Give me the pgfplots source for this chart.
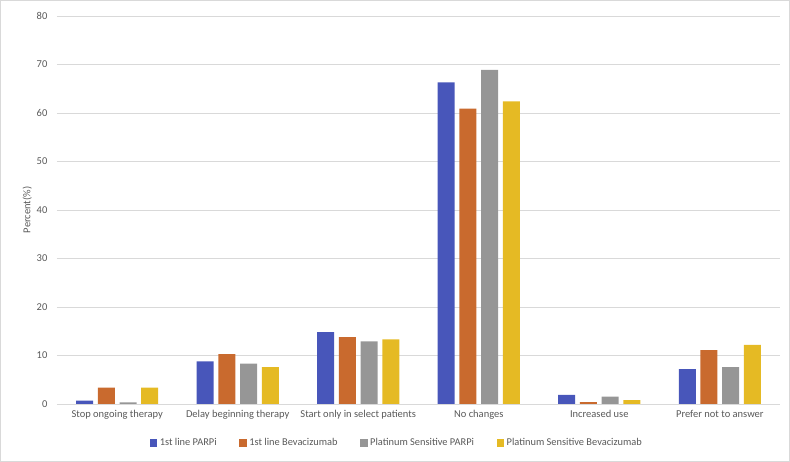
\documentclass[border=0pt]{standalone}
\usepackage{pgfplots}
\pgfplotsset{compat=1.18}
\usepackage{fontspec}
\setmainfont{Carlito}
\definecolor{cblue}{RGB}{72,86,186}
\definecolor{corange}{RGB}{201,106,46}
\definecolor{cgray}{RGB}{150,150,150}
\definecolor{cyellow}{RGB}{229,186,36}
\definecolor{cgrid}{RGB}{217,217,217}
\definecolor{ctext}{RGB}{89,89,89}
\begin{document}
\begin{tikzpicture}[x=1pt,y=1pt]
\draw[cgrid, line width=0.8pt] (0.5,0.5) rectangle (789.5,461.5);
\begin{axis}[
  at={(57pt,58pt)}, anchor=south west,
  scale only axis, width=723pt, height=388pt,
  ybar=4.7pt, bar width=17pt,
  xmin=-0.5, xmax=5.5, ymin=0, ymax=80,
  ytick={0,10,...,80},
  xtick={0,1,2,3,4,5},
  xticklabels={Stop ongoing therapy,Delay beginning therapy,Start only in select patients,No changes,Increased use,Prefer not to answer},
  axis line style={draw=none},
  major tick length=0pt,
  ymajorgrids, grid style={cgrid, line width=0.8pt},
  tick label style={font=\fontsize{10.5}{12}\selectfont, text=ctext},
  yticklabel style={xshift=-6pt},
  xticklabel style={yshift=-3pt},
  ylabel={Percent(\%)},
  ylabel style={font=\fontsize{10.5}{12}\selectfont, text=ctext, yshift=-2pt},
  /pgf/number format/assume math mode=true,
  legend style={at={(0.47,-0.078)}, anchor=north, draw=none, fill=none,
    font=\fontsize{10.4}{12}\selectfont, text=ctext,
    /tikz/every odd column/.append style={column sep=0.5pt},
    /tikz/every even column/.append style={column sep=20.5pt}},
  legend columns=4,
  legend image code/.code={\fill[#1, draw=none] (0pt,-3.7pt) rectangle (7.6pt,3.7pt);},
  every axis plot/.append style={draw=none},
]
\addplot[fill=cblue] coordinates {(0,0.7) (1,8.8) (2,14.8) (3,66.3) (4,1.9) (5,7.2)};
\addplot[fill=corange] coordinates {(0,3.4) (1,10.3) (2,13.8) (3,60.9) (4,0.4) (5,11.1)};
\addplot[fill=cgray] coordinates {(0,0.35) (1,8.3) (2,12.9) (3,68.9) (4,1.5) (5,7.6)};
\addplot[fill=cyellow] coordinates {(0,3.4) (1,7.6) (2,13.3) (3,62.4) (4,0.8) (5,12.2)};
\legend{1st line PARPi,1st line Bevacizumab,Platinum Sensitive PARPi,Platinum Sensitive Bevacizumab}
\end{axis}
\end{tikzpicture}
\end{document}
